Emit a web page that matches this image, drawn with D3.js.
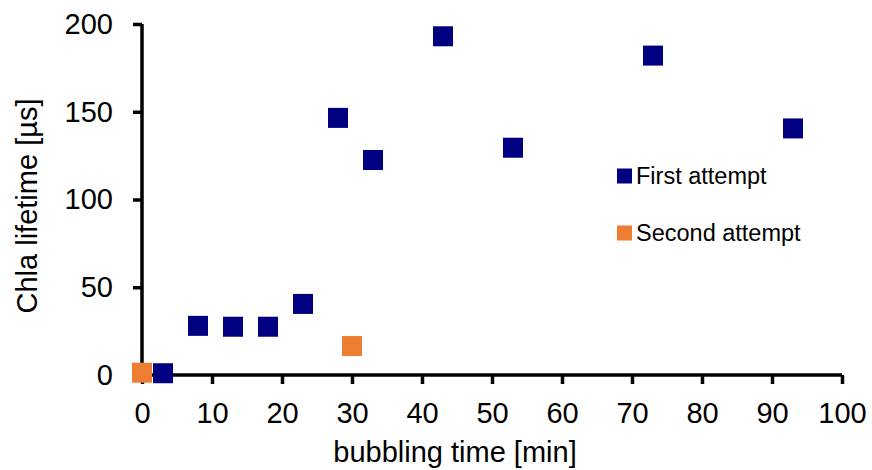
<!DOCTYPE html>
<html>
<head>
<meta charset="utf-8">
<script src="https://cdn.jsdelivr.net/npm/d3@7"></script>
<style>
  body { margin: 0; background: #fff; }
  text { font-family: "Liberation Sans", Arial, sans-serif; fill: #000; }
</style>
</head>
<body>
<div id="chart"></div>
<script>
// data
var firstTime = [3, 8, 13, 18, 23, 28, 33, 43, 53, 73, 93];
var firstLife = [1, 28, 27.5, 27.5, 40.5, 146.5, 122.5, 193, 129.5, 182, 140.5];
var secondTime = [0, 30];
var secondLife = [1.3, 16.5];
var seriesNames = ["First attempt", "Second attempt"];
var seriesColors = ["#000080", "#ED7D31"];
var xTicks = [0, 10, 20, 30, 40, 50, 60, 70, 80, 90, 100];
var yTicks = [0, 50, 100, 150, 200];

var svgWidth = 872;
var svgHeight = 470;

var margin = { top: 24, right: 30, bottom: 95, left: 142 };
var width = 842 - margin.left;
var height = 375 - margin.top;

var svg = d3.select("#chart")
  .append("svg")
  .attr("width", svgWidth)
  .attr("height", svgHeight);

var chartGroup = svg.append("g")
  .attr("transform", `translate(${margin.left}, ${margin.top})`);

var xScale = d3.scaleLinear().domain([0, 100]).range([0, width]);
var yScale = d3.scaleLinear().domain([0, 200]).range([height, 0]);

var bottomAxis = d3.axisBottom(xScale).tickValues(xTicks).tickSize(9).tickPadding(18);
var leftAxis = d3.axisLeft(yScale).tickValues(yTicks).tickSize(9).tickPadding(20);

var xAxisG = chartGroup.append("g")
  .attr("transform", `translate(0, ${height})`)
  .call(bottomAxis);

var yAxisG = chartGroup.append("g")
  .call(leftAxis);

[xAxisG, yAxisG].forEach(function(g) {
  g.select(".domain").attr("stroke", "#000").attr("stroke-width", 3.5);
  g.selectAll(".tick line").attr("stroke", "#000").attr("stroke-width", 3.5);
  g.selectAll(".tick text")
    .attr("font-size", "29px")
    .attr("font-family", "Liberation Sans, Arial, sans-serif")
    .attr("fill", "#000");
});
xAxisG.select(".domain").attr("d", `M0,0H${width}`);
xAxisG.selectAll(".tick line").attr("y1", 0);
yAxisG.select(".domain").attr("d", `M0,0V${height}`);

// markers
var sq = 20;
var firstData = firstTime.map((t, i) => ({ t: t, v: firstLife[i] }));
var secondData = secondTime.map((t, i) => ({ t: t, v: secondLife[i] }));

[firstData, secondData].forEach(function(data, k) {
  chartGroup.append("g").selectAll("rect")
    .data(data)
    .enter()
    .append("rect")
    .attr("x", d => xScale(d.t) - sq / 2)
    .attr("y", d => yScale(d.v) - sq / 2)
    .attr("width", sq)
    .attr("height", sq)
    .attr("fill", seriesColors[k]);
});

// legend
var legend = svg.append("g").attr("transform", "translate(617, 0)");
var legendY = [176, 233];
seriesNames.forEach(function(name, i) {
  legend.append("rect")
    .attr("x", 0)
    .attr("y", legendY[i] - 7.5)
    .attr("width", 15)
    .attr("height", 15)
    .attr("fill", seriesColors[i]);
  legend.append("text")
    .attr("x", 19)
    .attr("y", legendY[i] + 8)
    .attr("font-size", "23.5px")
    .text(name);
});

// axis titles
svg.append("text")
  .attr("transform", "translate(37, 206) rotate(-90)")
  .attr("text-anchor", "middle")
  .attr("font-size", "29px")
  .text("Chla lifetime [µs]");

svg.append("text")
  .attr("x", 455)
  .attr("y", 462)
  .attr("text-anchor", "middle")
  .attr("font-size", "29px")
  .text("bubbling time [min]");
</script>
</body>
</html>
